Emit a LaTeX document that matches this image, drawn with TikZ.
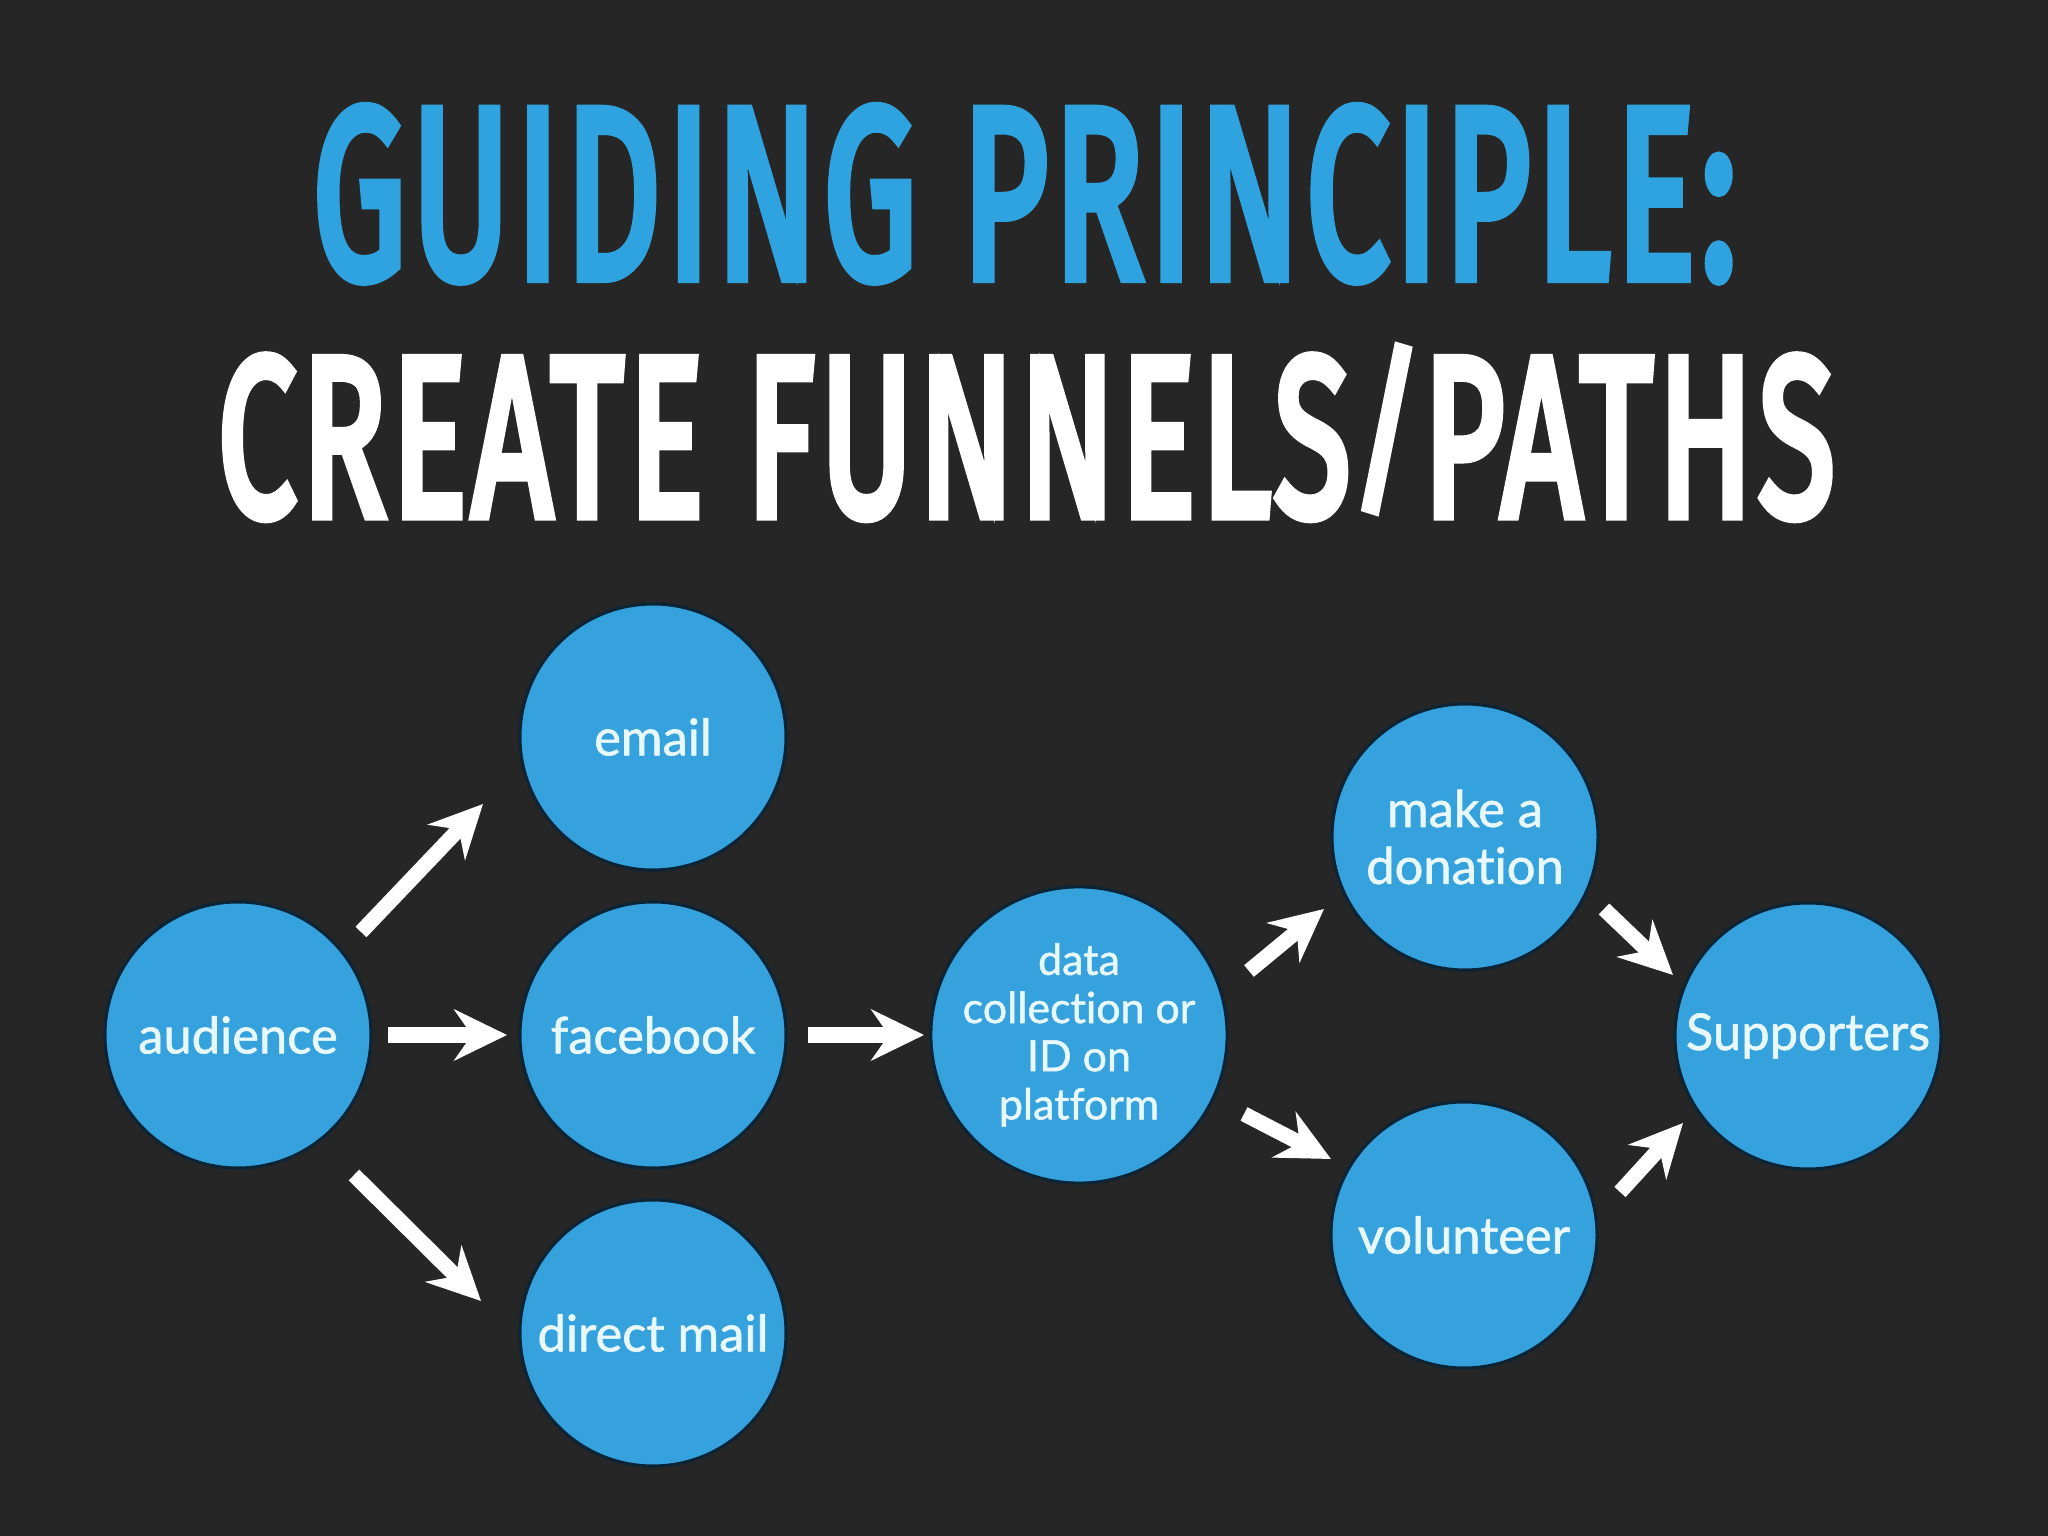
\documentclass[tikz,border=0pt]{standalone}
\usepackage{fontspec}
\usepackage{graphicx}
\setmainfont{Lato}[Ligatures=CommonOff, FakeBold=1.2]
\newfontfamily\titlefont{Fira Sans}[FakeBold=5, LetterSpace=4]
\newcommand{\tslash}{\raisebox{0.1em}{\scalebox{1}[0.8]{/}}}
\usetikzlibrary{arrows.meta,calc}
\definecolor{bg}{HTML}{262626}
\definecolor{circ}{HTML}{36A2DD}
\definecolor{ring}{HTML}{0C2536}
\definecolor{ttlblue}{HTML}{2EA3E0}
\definecolor{ctext}{HTML}{E8F8FF}
\begin{document}
\begin{tikzpicture}[x=0.01cm,y=0.01cm,
  bub/.style={circle, fill=circ, draw=ring, line width=0.9pt, minimum size=2.66cm,
    inner sep=0pt, text=ctext, font=\fontsize{14.4pt}{16.2pt}\selectfont, align=center},
  smalltext/.style={font=\fontsize{12.2pt}{13.7pt}\selectfont},
  arr/.style={draw=white, line width=4.3pt, -{Stealth[length=15pt,width=14.5pt,inset=5pt]}},
  ttl/.style={anchor=base west, inner sep=0pt}]
\fill[bg] (0,0) rectangle (2048,1536);
% title
\node[ttl, text=ttlblue] (t1) at (312,1259)
  {\resizebox{14.23cm}{1.69cm}{\titlefont GUIDING PRINCIPLE:}};
\node[ttl, text=white] (t2) at (217,1021)
  {\resizebox{16.16cm}{1.58cm}{\titlefont\smash{CREATE FUNNELS\tslash PATHS}\vphantom{CREATE}}};
% circles
\node[bub] (aud) at (238,501) {audience};
\node[bub] (email) at (653,799) {email};
\node[bub] (fb) at (653,501) {facebook};
\node[bub] (dm) at (653,203) {direct mail};
\node[bub, smalltext] (data) at (1079,501) {data\\collection or\\ID on\\platform};
\node[bub] (don) at (1465,699) {make a\\donation};
\node[bub] (vol) at (1464,301) {volunteer};
\node[bub] (sup) at (1808,500) {Supporters};
% arrows
\draw[arr] ($(aud)+(123,103)$) -- ($(email)+(-170,-67)$);
\draw[arr] ($(aud)+(150,0)$) -- ($(fb)+(-146,0)$);
\draw[arr] ($(aud)+(116,-140)$) -- ($(dm)+(-172,32)$);
\draw[arr] ($(fb)+(155,0)$) -- ($(data)+(-155,0)$);
\draw[arr] ($(data)+(170,64)$) -- ($(don)+(-141,-72)$);
\draw[arr] ($(data)+(165,-79)$) -- ($(vol)+(-133,76)$);
\draw[arr] ($(don)+(139,-72)$) -- ($(sup)+(-135,61)$);
\draw[arr] ($(vol)+(156,43)$) -- ($(sup)+(-125,-87)$);
\end{tikzpicture}
\end{document}
